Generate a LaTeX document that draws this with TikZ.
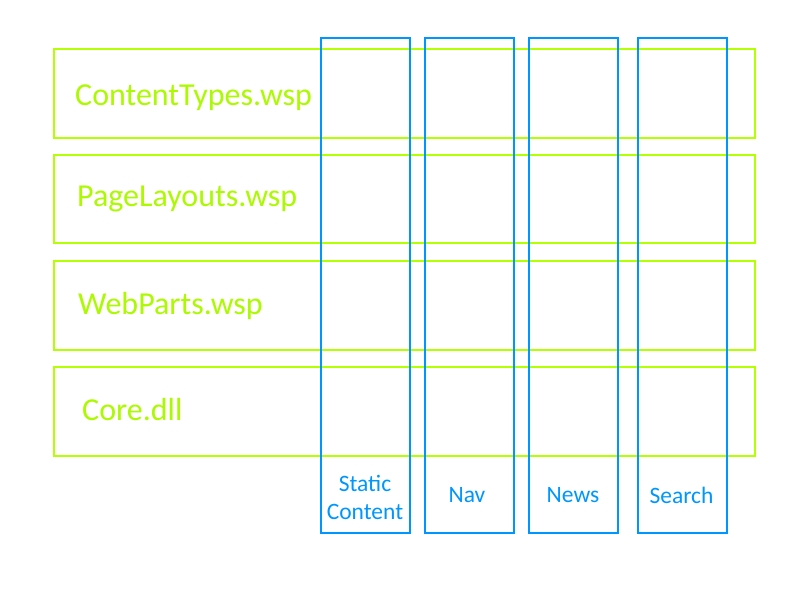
\documentclass[tikz,border=0pt]{standalone}
\usepackage{fontspec}
\setmainfont{Carlito}
\definecolor{lime}{HTML}{B4FF00}
\definecolor{limetext}{HTML}{ACFA00}
\definecolor{sky}{HTML}{0096FF}
\begin{document}
\begin{tikzpicture}[x=1pt,y=-1pt,
  rowbox/.style={draw=lime,line width=2pt},
  colbox/.style={draw=sky,line width=2pt},
  rowlabel/.style={anchor=base west,text=limetext,font=\fontsize{32}{34}\selectfont,inner sep=0pt},
  collabel/.style={text=sky,font=\fontsize{23.5}{28}\selectfont,align=center,inner sep=0pt}]
\useasboundingbox (0,0) rectangle (800,600);
\draw[rowbox] (54,48.5) rectangle (755,137.5) coordinate (r1);
\draw[rowbox] (54,154.5) rectangle (755,242.5) coordinate (r2);
\draw[rowbox] (54,260.5) rectangle (755,349.5) coordinate (r3);
\draw[rowbox] (54,366.5) rectangle (755,455.5) coordinate (r4);
\node[rowlabel] (t1) at (75,105) {ContentTypes.wsp};
\node[rowlabel] (t2) at (77,206) {PageLayouts.wsp};
\node[rowlabel] (t3) at (78,314) {WebParts.wsp};
\node[rowlabel] (t4) at (82,420) {Core.dll};
\draw[colbox] (320.5,37.5) rectangle (409.5,532.5) coordinate (c1);
\draw[colbox] (424.5,37.5) rectangle (513.5,532.5) coordinate (c2);
\draw[colbox] (528.5,37.5) rectangle (617.5,532.5) coordinate (c3);
\draw[colbox] (637.5,37.5) rectangle (726.5,532.5) coordinate (c4);
\node[collabel] (l1) at (365,497) {Static\\Content};
\node[collabel] (l2) at (467,495) {Nav};
\node[collabel] (l3) at (573,495) {News};
\node[collabel] (l4) at (681.5,495) {Search};
\end{tikzpicture}
\end{document}
